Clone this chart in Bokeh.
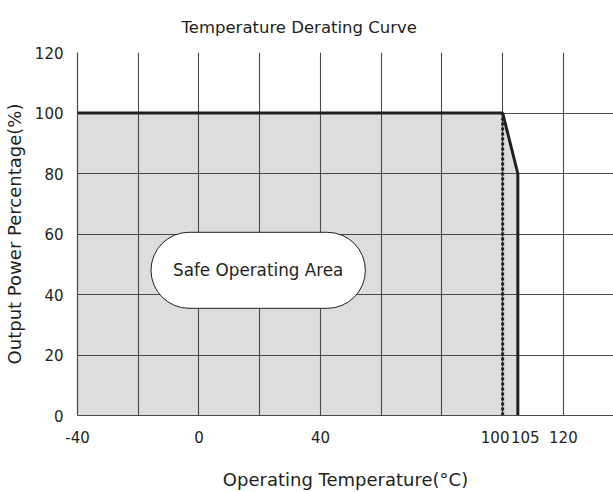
from bokeh.plotting import figure
from bokeh.models import FixedTicker, Range1d, Label
from bokeh.embed import file_html
from bokeh.resources import INLINE

# ---- data ----
curve_temp = [-40, 100, 105, 105]
curve_power = [100, 100, 80, 0]
derate_start_temp = 100
x_tick_values = [-40, 0, 40, 100, 105, 120]
x_tick_labels = {-40: "-40", 100: "100\u2002\u2002", 105: "\u2002\u2002105"}
x_grid_values = [-40, -20, 0, 20, 40, 60, 80, 100, 120, 140]
y_tick_values = [0, 20, 40, 60, 80, 100, 120]
area_label = "Safe Operating Area"
area_label_pos = (19.5, 48)

FONT = "DejaVu Sans"
INK = "#231f20"

p = figure(width=613, height=492, output_backend="svg", toolbar_location=None,
           x_range=Range1d(-40, 136.5), y_range=Range1d(0, 120),
           min_border_left=77, min_border_right=0, min_border_top=52, min_border_bottom=75,
           title="Temperature Derating Curve")
p.outline_line_color = None
p.background_fill_color = "white"

p.title.text_font = FONT
p.title.text_font_size = "16.5px"
p.title.text_font_style = "normal"
p.title.text_color = INK
p.title.align = "left"
p.title.offset = 104
p.title.standoff = 31

# fill under curve
patch_x = [curve_temp[0]] + curve_temp
patch_y = [0] + curve_power
p.patch(patch_x, patch_y, fill_color="#dcdddd", line_color=None, level="image")

# grid
p.xgrid.ticker = FixedTicker(ticks=x_grid_values)
p.ygrid.ticker = FixedTicker(ticks=y_tick_values)
for g in (p.xgrid, p.ygrid):
    g.grid_line_color = "#4a4a4a"
    g.grid_line_width = 1.1
    g.grid_line_alpha = 1

# curve
p.line(curve_temp, curve_power, line_color=INK, line_width=3)
p.line([derate_start_temp, derate_start_temp], [0, curve_power[0]],
       line_color=INK, line_width=3, line_dash="3 2")

# axes
p.xaxis.ticker = FixedTicker(ticks=x_tick_values)
p.xaxis.major_label_overrides = x_tick_labels
p.yaxis.ticker = FixedTicker(ticks=y_tick_values)
for ax in (p.xaxis, p.yaxis):
    ax.major_tick_in = 0
    ax.major_tick_out = 0
    ax.minor_tick_in = 0
    ax.minor_tick_out = 0
    ax.axis_line_color = "#4a4a4a"
    ax.axis_line_width = 1.2
    ax.major_label_text_font = FONT
    ax.major_label_text_font_size = "15px"
    ax.major_label_text_color = INK
    ax.axis_label_text_font = FONT
    ax.axis_label_text_font_size = "18px"
    ax.axis_label_text_font_style = "normal"
    ax.axis_label_text_color = INK

p.xaxis.axis_label = "Operating Temperature(°C)"
p.yaxis.axis_label = "Output Power Percentage(%)"
p.xaxis.major_label_standoff = 13
p.yaxis.major_label_standoff = 14
p.xaxis.axis_label_standoff = 19
p.yaxis.axis_label_standoff = 7

lab = Label(x=area_label_pos[0], y=area_label_pos[1], text=area_label,
            text_align="center", text_baseline="middle",
            text_font=FONT, text_font_size="16.8px", text_color=INK,
            background_fill_color="white", border_line_color=INK, border_line_width=1,
            padding=dict(left=22, right=22, top=28, bottom=28), border_radius=38)
p.add_layout(lab)

open("out.html", "w").write(file_html(p, INLINE))
